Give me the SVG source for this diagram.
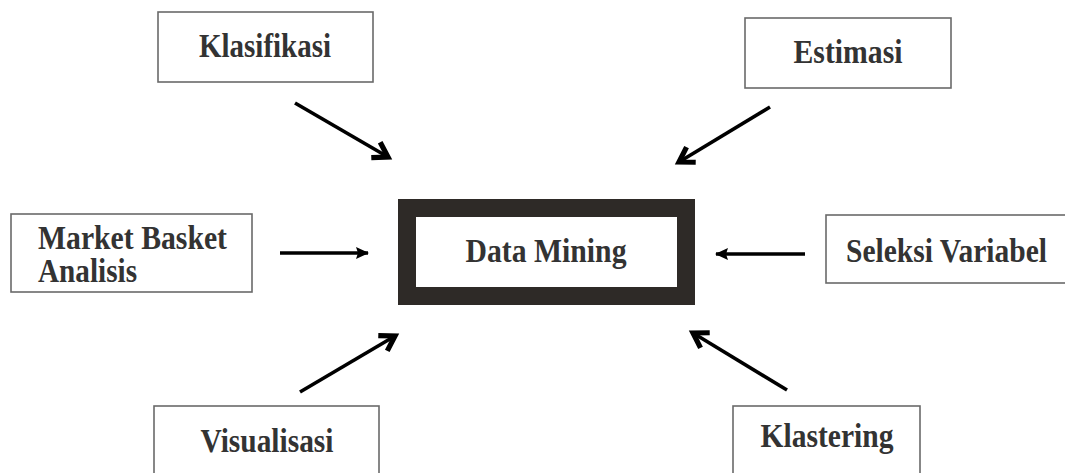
<svg xmlns="http://www.w3.org/2000/svg" width="1065" height="473" viewBox="0 0 1065 473">
<style>
.box{fill:#fff;stroke:#6a6a6a;stroke-width:1.6}
.lbl{font-family:"Liberation Serif","Times New Roman",serif;font-weight:bold;font-size:34px;fill:#333}
.conn{stroke:#000;stroke-width:3.6;fill:none}
</style>
<defs>
<marker id="chev" markerUnits="userSpaceOnUse" markerWidth="26" markerHeight="26" viewBox="-15 -11 20 22" refX="0" refY="0" orient="auto">
<path d="M-12,-7.5 L0,0 L-12,7.5" fill="none" stroke="#000" stroke-width="4.4" stroke-linejoin="miter"/>
</marker>
<marker id="tri" markerUnits="userSpaceOnUse" markerWidth="18" markerHeight="16" viewBox="-14 -8 16 16" refX="0" refY="0" orient="auto">
<path d="M-12,-6 L1,0 L-12,6 L-10,0 Z" fill="#000"/>
</marker>
</defs>
<rect width="1065" height="473" fill="#fff"/>
<g id="data-mining">
<rect x="407" y="208" width="279" height="88" fill="#fff" stroke="#2e2a27" stroke-width="18"/>
<text class="lbl" x="546" y="262" text-anchor="middle" textLength="161" lengthAdjust="spacingAndGlyphs">Data Mining</text>
</g>
<g id="klasifikasi">
<rect class="box" x="158" y="12" width="215" height="70"/>
<text class="lbl" x="265" y="57" text-anchor="middle" textLength="132" lengthAdjust="spacingAndGlyphs">Klasifikasi</text>
</g>
<g id="estimasi">
<rect class="box" x="745" y="18" width="206" height="70"/>
<text class="lbl" x="848" y="63" text-anchor="middle" textLength="109" lengthAdjust="spacingAndGlyphs">Estimasi</text>
</g>
<g id="market-basket">
<rect class="box" x="11" y="214" width="241" height="78"/>
<text class="lbl" x="38" y="249" textLength="189" lengthAdjust="spacingAndGlyphs">Market Basket</text>
<text class="lbl" x="38" y="282" textLength="99" lengthAdjust="spacingAndGlyphs">Analisis</text>
</g>
<g id="seleksi-variabel">
<rect class="box" x="826" y="215" width="250" height="68"/>
<text class="lbl" x="846" y="262" textLength="201" lengthAdjust="spacingAndGlyphs">Seleksi Variabel</text>
</g>
<g id="visualisasi">
<rect class="box" x="154" y="406" width="225" height="80"/>
<text class="lbl" x="267" y="452" text-anchor="middle" textLength="133" lengthAdjust="spacingAndGlyphs">Visualisasi</text>
</g>
<g id="klastering">
<rect class="box" x="733" y="406" width="187" height="80"/>
<text class="lbl" x="827" y="447" text-anchor="middle" textLength="133" lengthAdjust="spacingAndGlyphs">Klastering</text>
</g>
<g id="connectors">
<line class="conn" x1="295" y1="103" x2="388" y2="157" marker-end="url(#chev)"/>
<line class="conn" x1="770" y1="107" x2="679" y2="162" marker-end="url(#chev)"/>
<line class="conn" x1="280" y1="253" x2="368" y2="253" marker-end="url(#tri)"/>
<line class="conn" x1="805" y1="254" x2="716" y2="254" marker-end="url(#tri)"/>
<line class="conn" x1="300" y1="392" x2="395" y2="336" marker-end="url(#chev)"/>
<line class="conn" x1="787" y1="390" x2="693" y2="333" marker-end="url(#chev)"/>
</g>
</svg>
